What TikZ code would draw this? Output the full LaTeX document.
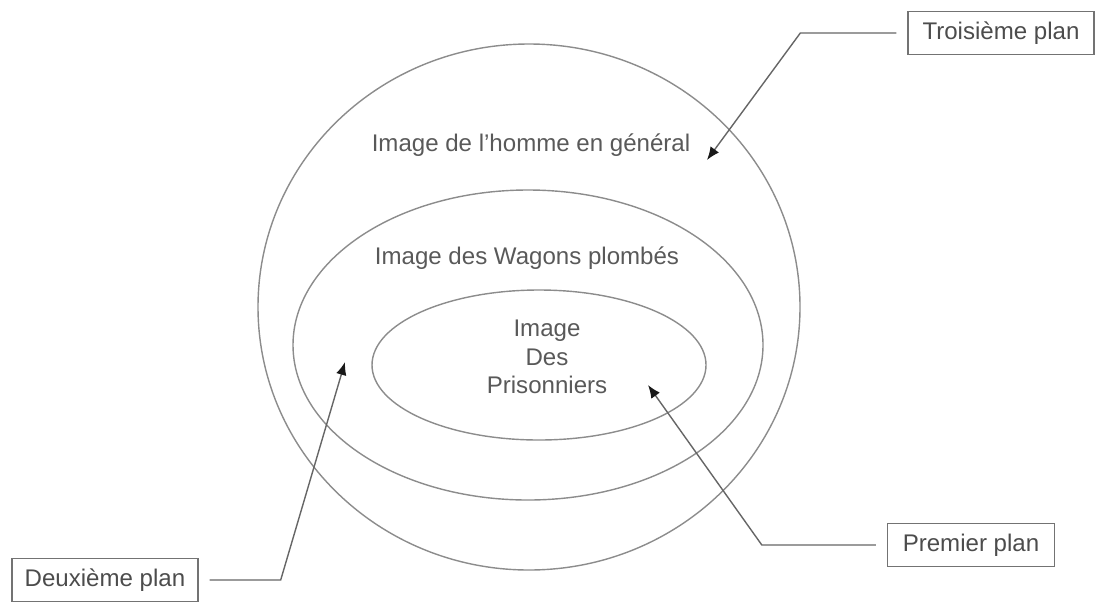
\documentclass[tikz,border=0pt]{standalone}
\usepackage{fontspec}
\setmainfont{Liberation Sans}
\usetikzlibrary{arrows.meta}
\usetikzlibrary{positioning}

\begin{document}
\begin{tikzpicture}[x=0.02cm, y=-0.02cm,
    ring/.style={draw=black!45, thick},
    txt/.style={text=black!65, font=\fontsize{13.7}{16.2}\selectfont, align=center},
    planbox/.style={draw=black!55, thick, text=black!70, font=\fontsize{13.7}{16.2}\selectfont,
        minimum width=3.72cm, minimum height=0.86cm, inner sep=0pt},
    fleche/.style={draw=black!60, thick, shorten <=0.22cm, -{Latex[length=2.6mm, width=2.1mm, color=black!90]}}]%
        \useasboundingbox (0,0) rectangle (1098,606);
        % the three planes
        \draw [ring] (529,307) ellipse [x radius=271, y radius=263];
        \draw [ring] (528,345) ellipse [x radius=235, y radius=155];
        \draw [ring] (539,365) ellipse [x radius=167, y radius=75];
        \node [txt] (homme) at (531,145) {Image de l'homme en général};
        \node [txt] (wagons) at (527,258) {Image des Wagons plombés};
        \node [txt] (prison) at (547,357) {Image\\Des\\Prisonniers};
        % labels
        \node [planbox] (trois) at (1001,33) {Troisième plan};
        \node [planbox] (deux) at (105,580) {Deuxième plan};
        \node [planbox, minimum width=3.34cm] (prem) at (971,545) {Premier plan};
        \coordinate (p3) at (707,160);\coordinate (p2) at (345,362);\coordinate (p1) at (648,385);
        \draw [fleche] (trois.west) -- ++(-107,0) -- (p3);
        \draw [fleche] (deux.east) -- ++(82,0) -- (p2);
        \draw [fleche] (prem.west) -- ++(-125,0) -- (p1);
    \end{tikzpicture}
\end{document}
